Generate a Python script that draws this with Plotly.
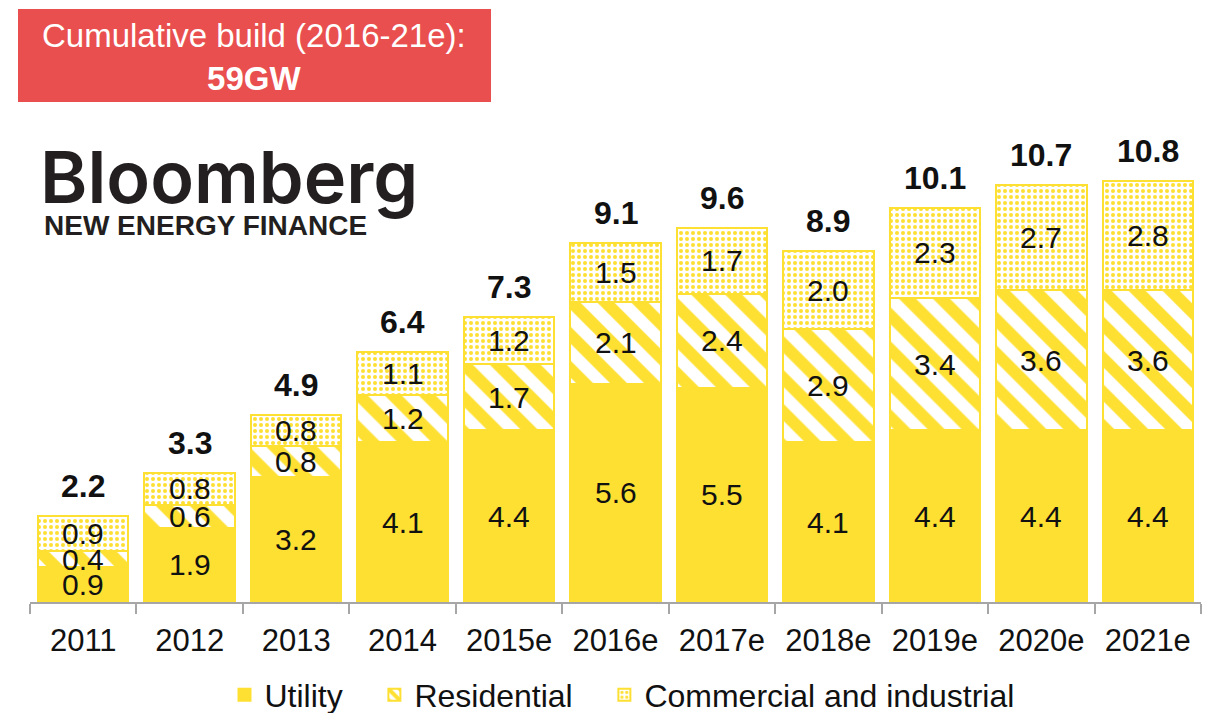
import plotly.graph_objects as go

years = ["2011", "2012", "2013", "2014", "2015e", "2016e", "2017e", "2018e", "2019e", "2020e", "2021e"]
utility = [0.9, 1.9, 3.2, 4.1, 4.4, 5.6, 5.5, 4.1, 4.4, 4.4, 4.4]
residential = [0.4, 0.6, 0.8, 1.2, 1.7, 2.1, 2.4, 2.9, 3.4, 3.6, 3.6]
commercial = [0.9, 0.8, 0.8, 1.1, 1.2, 1.5, 1.7, 2.0, 2.3, 2.7, 2.8]
totals = [2.2, 3.3, 4.9, 6.4, 7.3, 9.1, 9.6, 8.9, 10.1, 10.7, 10.8]

YEL = "#FEE033"
FONT = "Arial, Liberation Sans, sans-serif"
NB = "\u00a0"
xs = list(range(len(years)))

# page has an 8px body margin; figure sized so page is exactly 1216x721
OFF = 8
W, H = 1200, 705
L, R, T, B = 22, 7, 126, 111
PW, PH = W - L - R, H - T - B


def px(xr):
    return (xr - OFF - L) / PW


def py(yr):
    return (H - B - (yr - OFF)) / PH


fig = go.Figure()
fig.add_trace(go.Bar(x=xs, y=utility, name="Utility" + NB * 3,
                     marker=dict(color=YEL, line=dict(color=YEL, width=2))))
fig.add_trace(go.Bar(x=xs, y=residential, name="Residential" + NB * 3,
                     marker=dict(color="white", line=dict(color=YEL, width=2),
                                 pattern=dict(shape="\\", fgcolor=YEL, bgcolor="white",
                                              size=24, solidity=0.5, fillmode="replace"))))
fig.add_trace(go.Bar(x=xs, y=commercial, name="Commercial and industrial",
                     marker=dict(color="white", line=dict(color=YEL, width=2),
                                 pattern=dict(shape=".", fgcolor=YEL, bgcolor="white",
                                              size=6, solidity=0.35, fillmode="replace"))))

ann = []
for i in xs:
    u, r, c = utility[i], residential[i], commercial[i]
    for val, mid in [(u, u / 2), (r, u + r / 2), (c, u + r + c / 2)]:
        ann.append(dict(x=i, y=mid, text=f"{val:.1f}", showarrow=False,
                        xanchor="center", yanchor="middle",
                        font=dict(size=30, color="#111111", family=FONT),
                        xref="x", yref="y"))
    ann.append(dict(x=i, y=u + r + c, text=f"<b>{totals[i]:.1f}</b>", showarrow=False,
                    xanchor="center", yanchor="bottom", yshift=10,
                    font=dict(size=32, color="#111111", family=FONT), xref="x", yref="y"))

fig.update_layout(
    annotations=ann,
    barmode="stack",
    bargap=0.15,
    width=W, height=H,
    margin=dict(l=L, r=R, t=T, b=B, autoexpand=False),
    plot_bgcolor="white", paper_bgcolor="white",
    font=dict(family=FONT, size=30, color="#111111"),
    showlegend=True,
    legend=dict(orientation="h", x=px(622), xanchor="center", y=py(695), yanchor="middle",
                font=dict(size=32, family=FONT, color="#111111"),
                itemwidth=30, traceorder="normal"),
    xaxis=dict(range=[-0.5, len(years) - 0.5], showline=True, linecolor="#A6A6A6", linewidth=2,
               tickmode="array", tickvals=xs, ticktext=years, ticks="", showgrid=False,
               zeroline=False, tickangle=0, automargin=False,
               minor=dict(tick0=0.5, dtick=1, ticks="outside", ticklen=10,
                          tickcolor="#A6A6A6", tickwidth=2, showgrid=False),
               tickfont=dict(size=31, family=FONT, color="#111111"), ticklabelstandoff=10),
    yaxis=dict(visible=False, range=[0, 12], automargin=False),
)

# Red title box
fig.add_shape(type="rect", xref="paper", yref="paper",
              x0=px(18), x1=px(491), y0=py(102), y1=py(9),
              fillcolor="#E94F4E", line=dict(width=0), layer="above")
fig.add_annotation(xref="paper", yref="paper", x=px(254), y=py(57),
                   xanchor="center", yanchor="middle",
                   text="Cumulative build (2016-21e):<br><b>59GW</b>", showarrow=False,
                   font=dict(size=33, color="white", family=FONT), align="center")
# Logo text
fig.add_annotation(xref="paper", yref="paper", x=px(38), y=py(176),
                   text="Bloomberg", showarrow=False, xanchor="left", yanchor="middle",
                   font=dict(size=72, color="#231F20", family="Inter, Lato, sans-serif", weight=600))
fig.add_annotation(xref="paper", yref="paper", x=px(42), y=py(225),
                   text="<b>NEW ENERGY FINANCE</b>", showarrow=False, xanchor="left", yanchor="middle",
                   font=dict(size=28, color="#231F20", family=FONT))

fig.write_html("out.html")
